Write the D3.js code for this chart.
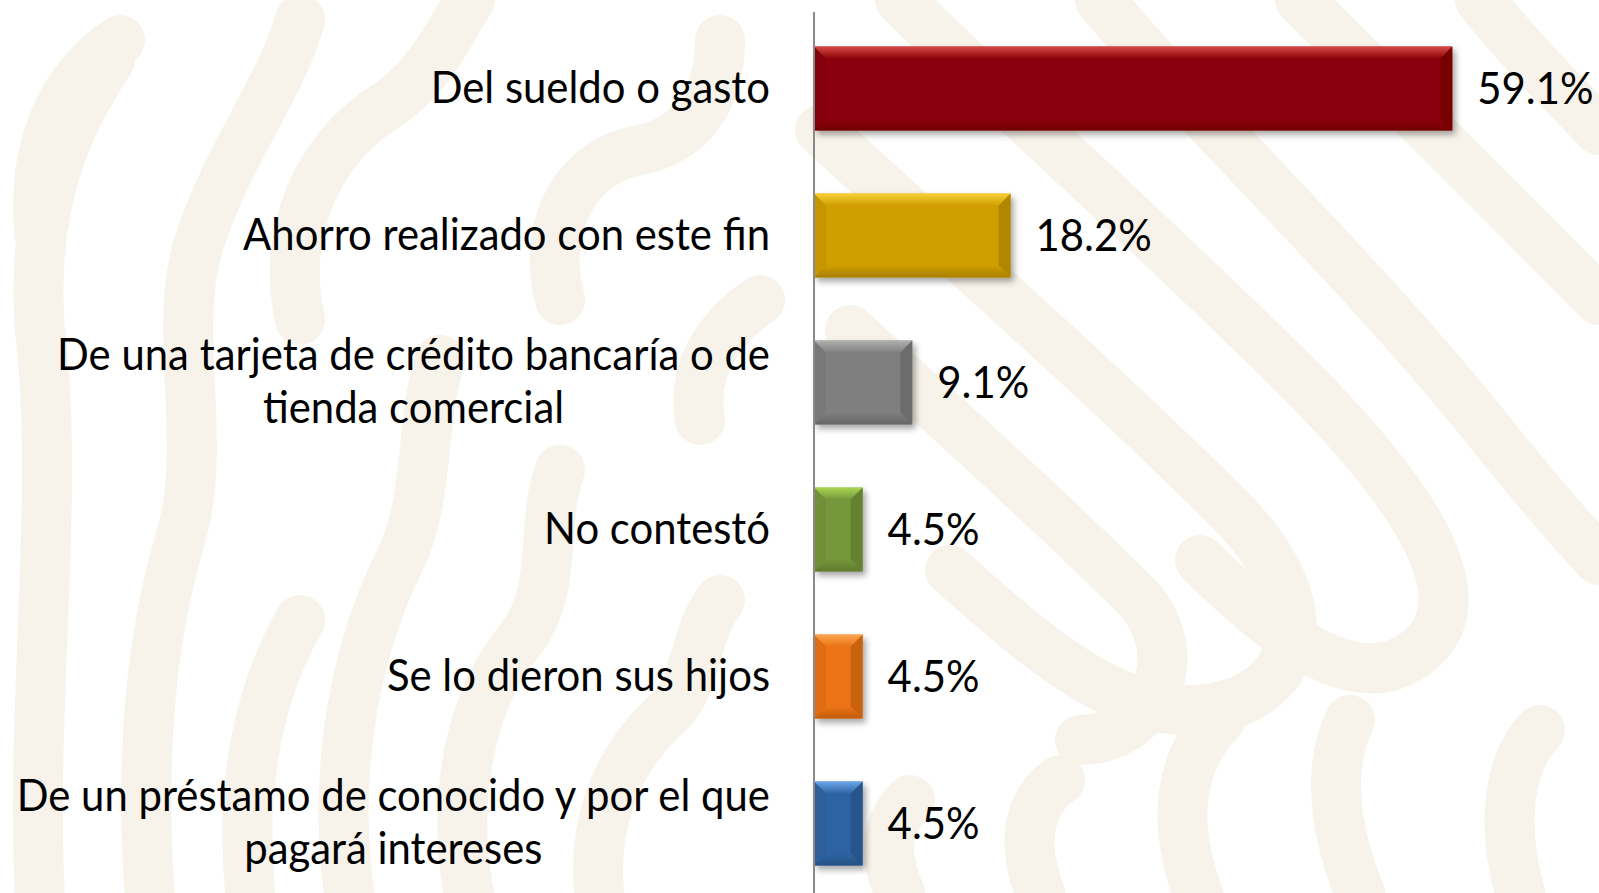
<!DOCTYPE html>
<html>
<head>
<meta charset="utf-8">
<script src="https://cdn.jsdelivr.net/npm/d3@7"></script>
<style>
  body { margin: 0; background: #fff; }
  svg { display: block; }
</style>
</head>
<body>
<script>
// data
let categories = [
  "Del sueldo o gasto",
  "Ahorro realizado con este fin",
  "De una tarjeta de crédito bancaría o de\ntienda comercial",
  "No contestó",
  "Se lo dieron sus hijos",
  "De un préstamo de conocido y por el que\npagará intereses"
];
let values = [59.1, 18.2, 9.1, 4.5, 4.5, 4.5];
let barColors = ["#8c0407", "#d09e05", "#7f7f7f", "#76973a", "#ec7313", "#2f63a3"];
let topColors = ["#d84848", "#f7d034", "#b0b0b0", "#a9d552", "#fba653", "#6aa6ea"];

let width = 1599, height = 893;

const svg = d3.select("body").append("svg")
  .attr("width", width)
  .attr("height", height);

const defs = svg.append("defs");

// soft drop shadow under bars
const shadow = defs.append("filter").attr("id", "shadow")
  .attr("x", "-10%").attr("y", "-20%").attr("width", "130%").attr("height", "150%");
shadow.append("feDropShadow")
  .attr("dx", 3).attr("dy", 4).attr("stdDeviation", 3)
  .attr("flood-color", "#000").attr("flood-opacity", 0.35);

// background watermark (decorative)
let bgColor = "#f8f3ea";
let bgPaths = [
  "M40,900 C30,700 60,500 40,330 C30,200 70,120 110,60",
  "M150,900 C140,760 150,640 180,540 C210,440 170,330 200,240 C230,150 280,90 300,20",
  "M250,893 C240,780 260,690 300,620",
  "M350,900 C330,760 360,640 400,560 C430,500 420,420 440,360",
  "M470,900 C450,800 470,700 520,640 C560,590 540,520 560,470",
  "M600,900 C590,820 620,760 660,720 C700,690 690,640 720,600",
  "M300,320 C280,230 320,150 380,110 C430,80 450,30 470,0",
  "M560,300 C540,220 580,160 640,150 C690,140 720,100 720,40",
  "M40,240 C30,150 60,80 120,40",
  "M700,420 C690,360 730,320 760,300",
  "M900,0 C1000,100 1150,230 1300,380 C1420,500 1480,600 1420,650 C1360,700 1280,640 1200,560",
  "M1100,0 C1200,120 1350,260 1480,420 C1560,520 1599,560 1599,560",
  "M820,130 C950,250 1100,380 1230,510 C1330,610 1300,700 1200,710 C1120,715 1050,660 950,570",
  "M1300,0 C1400,100 1500,200 1599,300",
  "M1480,0 C1520,50 1560,90 1599,130",
  "M850,330 C950,420 1060,520 1140,600 C1190,660 1150,740 1080,740",
  "M1200,900 C1170,820 1180,760 1220,720",
  "M1360,893 C1330,820 1330,760 1350,720",
  "M1520,893 C1500,820 1510,760 1540,730",
  "M1040,893 C1020,840 1030,800 1060,780",
  "M900,893 C880,850 890,820 910,800"
];
svg.append("g").selectAll("path")
  .data(bgPaths)
  .enter()
  .append("path")
  .attr("d", function(d) { return d; })
  .attr("fill", "none")
  .attr("stroke", bgColor)
  .attr("stroke-width", 50)
  .attr("stroke-linecap", "round");

// scales
const x = d3.scaleLinear().domain([0, 60]).range([814, 1462]);
const y = d3.scaleBand().domain(categories).range([15, 897])
  .paddingInner(0.43).paddingOuter(0.215);

// gradients for bevels
barColors.forEach(function(c, i) {
  let gt = defs.append("linearGradient").attr("id", "gt" + i)
    .attr("x1", 0).attr("y1", 0).attr("x2", 0).attr("y2", 1);
  gt.append("stop").attr("offset", "0%").attr("stop-color", topColors[i]);
  gt.append("stop").attr("offset", "100%").attr("stop-color", c);
  let gb = defs.append("linearGradient").attr("id", "gb" + i)
    .attr("x1", 0).attr("y1", 0).attr("x2", 0).attr("y2", 1);
  gb.append("stop").attr("offset", "0%").attr("stop-color", c);
  gb.append("stop").attr("offset", "100%").attr("stop-color", d3.color(c).darker(0.6));
});

let bev = 12;
const bars = svg.append("g").selectAll("g.bar")
  .data(values)
  .enter()
  .append("g")
  .attr("class", "bar")
  .attr("filter", "url(#shadow)");

bars.each(function(d, i) {
  let g = d3.select(this);
  let x0 = x(0), x1 = x(d), y0 = y(categories[i]), y1 = y0 + y.bandwidth();
  let c = barColors[i];
  g.append("rect")
    .attr("x", x0).attr("y", y0)
    .attr("width", x1 - x0).attr("height", y1 - y0)
    .attr("fill", c);
  // left
  g.append("polygon")
    .attr("points", [[x0, y0], [x0 + bev, y0 + bev], [x0 + bev, y1 - bev], [x0, y1]].join(" "))
    .attr("fill", d3.color(c).darker(0.15));
  // right
  g.append("polygon")
    .attr("points", [[x1, y0], [x1 - bev, y0 + bev], [x1 - bev, y1 - bev], [x1, y1]].join(" "))
    .attr("fill", d3.color(c).darker(0.45));
  // top
  g.append("polygon")
    .attr("points", [[x0, y0], [x1, y0], [x1 - bev, y0 + bev], [x0 + bev, y0 + bev]].join(" "))
    .attr("fill", "url(#gt" + i + ")");
  // bottom
  g.append("polygon")
    .attr("points", [[x0, y1], [x1, y1], [x1 - bev, y1 - bev], [x0 + bev, y1 - bev]].join(" "))
    .attr("fill", "url(#gb" + i + ")");
});

// vertical axis line
const axis = svg.append("g")
  .attr("transform", "translate(" + x(0) + ",0)")
  .call(d3.axisLeft(y).tickSize(0).tickSizeOuter(0).tickFormat(""));
axis.select(".domain")
  .attr("stroke", "#8a8a8a")
  .attr("stroke-width", 2)
  .attr("d", "M0,12V893");

// text: Calibri-like, horizontally condensed
let fontSize = 44;
let fontFamily = "Lato, 'Open Sans', sans-serif";
let probe = svg.append("text")
  .attr("font-family", fontFamily)
  .attr("font-size", fontSize)
  .text("Ahorro realizado con este fin");
let sx = 527 / probe.node().getComputedTextLength();
probe.remove();

function textWidth(s) {
  let t = svg.append("text").attr("font-family", fontFamily).attr("font-size", fontSize).text(s);
  let w = t.node().getComputedTextLength();
  t.remove();
  return w * sx;
}

let labelRight = 770;
let lineGap = 53;
let capShift = 14;

const labels = svg.append("g");
categories.forEach(function(cat) {
  let lines = cat.split("\n");
  let cy = y(cat) + y.bandwidth() / 2;
  if (lines.length === 1) {
    labels.append("text")
      .attr("transform", "translate(" + labelRight + "," + (cy + capShift) + ") scale(" + sx + ",1)")
      .attr("text-anchor", "end")
      .attr("font-family", fontFamily)
      .attr("font-size", fontSize)
      .attr("fill", "#000")
      .text(lines[0]);
  } else {
    let maxW = d3.max(lines, textWidth);
    let mid = labelRight - maxW / 2;
    lines.forEach(function(l, j) {
      let by = cy + capShift + (j - (lines.length - 1) / 2) * lineGap;
      labels.append("text")
        .attr("transform", "translate(" + mid + "," + by + ") scale(" + sx + ",1)")
        .attr("text-anchor", "middle")
        .attr("font-family", fontFamily)
        .attr("font-size", fontSize)
        .attr("fill", "#000")
        .text(l);
    });
  }
});

// value labels
svg.append("g").selectAll("text")
  .data(values)
  .enter()
  .append("text")
  .attr("transform", function(d, i) {
    return "translate(" + (x(d) + 25) + "," + (y(categories[i]) + y.bandwidth() / 2 + capShift + 1) + ") scale(" + sx + ",1)";
  })
  .attr("font-family", fontFamily)
  .attr("font-size", fontSize)
  .attr("fill", "#000")
  .text(function(d) { return d.toFixed(1) + "%"; });
</script>
</body>
</html>
